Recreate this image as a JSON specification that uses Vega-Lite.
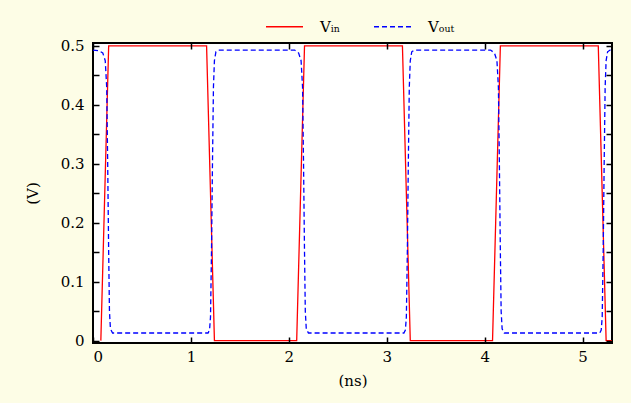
{
  "$schema": "https://vega.github.io/schema/vega-lite/v6.json",
  "width": 519,
  "height": 300,
  "autosize": {"type": "none"},
  "padding": {"left": 93, "top": 43, "right": 19, "bottom": 60},
  "background": "#fdfde6",
  "config": {
    "view": {"fill": "white", "stroke": "#000", "strokeWidth": 2},
    "font": "DejaVu Serif",
    "axis": {
      "domain": false,
      "grid": false,
      "ticks": true,
      "tickColor": "#000000",
      "tickOpacity": 1,
      "tickSize": 6,
      "tickWidth": 1.5,
      "labelFont": "DejaVu Serif",
      "labelFontSize": 15,
      "labelColor": "#000",
      "titleFont": "DejaVu Serif",
      "titleFontSize": 15,
      "titleFontWeight": "normal",
      "titleColor": "#000"
    }
  },
  "data": {
    "values": [
      {"s": "Vin", "t": 0.08, "v": 0},
      {"s": "Vin", "t": 0.16, "v": 0.5},
      {"s": "Vin", "t": 1.16, "v": 0.5},
      {"s": "Vin", "t": 1.24, "v": 0},
      {"s": "Vin", "t": 2.08, "v": 0},
      {"s": "Vin", "t": 2.16, "v": 0.5},
      {"s": "Vin", "t": 3.16, "v": 0.5},
      {"s": "Vin", "t": 3.24, "v": 0},
      {"s": "Vin", "t": 4.08, "v": 0},
      {"s": "Vin", "t": 4.16, "v": 0.5},
      {"s": "Vin", "t": 5.16, "v": 0.5},
      {"s": "Vin", "t": 5.24, "v": 0},
      {"s": "Vin", "t": 5.3, "v": 0},

      {"s": "Vout", "t": 0.0, "v": 0.493},
      {"s": "Vout", "t": 0.06, "v": 0.492},
      {"s": "Vout", "t": 0.1, "v": 0.488},
      {"s": "Vout", "t": 0.125, "v": 0.475},
      {"s": "Vout", "t": 0.14, "v": 0.43},
      {"s": "Vout", "t": 0.15, "v": 0.3},
      {"s": "Vout", "t": 0.16, "v": 0.15},
      {"s": "Vout", "t": 0.168, "v": 0.05},
      {"s": "Vout", "t": 0.178, "v": 0.02},
      {"s": "Vout", "t": 0.2, "v": 0.013},
      {"s": "Vout", "t": 1.175, "v": 0.013},
      {"s": "Vout", "t": 1.19, "v": 0.018},
      {"s": "Vout", "t": 1.2, "v": 0.04},
      {"s": "Vout", "t": 1.21, "v": 0.15},
      {"s": "Vout", "t": 1.22, "v": 0.3},
      {"s": "Vout", "t": 1.23, "v": 0.43},
      {"s": "Vout", "t": 1.24, "v": 0.475},
      {"s": "Vout", "t": 1.255, "v": 0.49},
      {"s": "Vout", "t": 1.28, "v": 0.493},
      {"s": "Vout", "t": 2.06, "v": 0.493},
      {"s": "Vout", "t": 2.1, "v": 0.488},
      {"s": "Vout", "t": 2.125, "v": 0.475},
      {"s": "Vout", "t": 2.14, "v": 0.43},
      {"s": "Vout", "t": 2.15, "v": 0.3},
      {"s": "Vout", "t": 2.16, "v": 0.15},
      {"s": "Vout", "t": 2.168, "v": 0.05},
      {"s": "Vout", "t": 2.178, "v": 0.02},
      {"s": "Vout", "t": 2.2, "v": 0.013},
      {"s": "Vout", "t": 3.175, "v": 0.013},
      {"s": "Vout", "t": 3.19, "v": 0.018},
      {"s": "Vout", "t": 3.2, "v": 0.04},
      {"s": "Vout", "t": 3.21, "v": 0.15},
      {"s": "Vout", "t": 3.22, "v": 0.3},
      {"s": "Vout", "t": 3.23, "v": 0.43},
      {"s": "Vout", "t": 3.24, "v": 0.475},
      {"s": "Vout", "t": 3.255, "v": 0.49},
      {"s": "Vout", "t": 3.28, "v": 0.493},
      {"s": "Vout", "t": 4.06, "v": 0.493},
      {"s": "Vout", "t": 4.1, "v": 0.488},
      {"s": "Vout", "t": 4.125, "v": 0.475},
      {"s": "Vout", "t": 4.14, "v": 0.43},
      {"s": "Vout", "t": 4.15, "v": 0.3},
      {"s": "Vout", "t": 4.16, "v": 0.15},
      {"s": "Vout", "t": 4.168, "v": 0.05},
      {"s": "Vout", "t": 4.178, "v": 0.02},
      {"s": "Vout", "t": 4.2, "v": 0.013},
      {"s": "Vout", "t": 5.175, "v": 0.013},
      {"s": "Vout", "t": 5.19, "v": 0.018},
      {"s": "Vout", "t": 5.2, "v": 0.04},
      {"s": "Vout", "t": 5.21, "v": 0.15},
      {"s": "Vout", "t": 5.22, "v": 0.3},
      {"s": "Vout", "t": 5.23, "v": 0.43},
      {"s": "Vout", "t": 5.24, "v": 0.475},
      {"s": "Vout", "t": 5.255, "v": 0.49},
      {"s": "Vout", "t": 5.28, "v": 0.493},
      {"s": "Vout", "t": 5.3, "v": 0.493}
    ]
  },
  "layer": [
    {
      "mark": {"type": "line", "strokeWidth": 1.3, "clip": true},
      "encoding": {
        "x": {
          "field": "t", "type": "quantitative",
          "scale": {"domain": [0, 5.3], "nice": false, "zero": false},
          "axis": {"orient": "bottom", "values": [0, 1, 2, 3, 4, 5], "ticks": false, "title": "(ns)", "labelPadding": 6, "titlePadding": 9}
        },
        "y": {
          "field": "v", "type": "quantitative",
          "scale": {"domain": [-0.004, 0.505], "nice": false, "zero": false},
          "axis": {
            "orient": "left",
            "values": [0, 0.1, 0.2, 0.3, 0.4, 0.5],
            "format": "~g",
            "ticks": false,
            "title": "(V)",
            "labelPadding": 9,
            "titlePadding": 20
          }
        },
        "color": {
          "field": "s", "type": "nominal",
          "scale": {"domain": ["Vin", "Vout"], "range": ["#ff0000", "#0000ff"]},
          "legend": {
            "title": null, "orient": "none", "legendX": 172, "legendY": -36, "direction": "horizontal",
            "symbolType": "stroke", "symbolSize": 1369, "symbolStrokeWidth": 1.5,
            "labelFont": "DejaVu Serif", "labelFontSize": 15, "labelColor": "#000", "labelOffset": 16, "columnPadding": 30, "padding": 0,
            "labelExpr": "datum.label == 'Vin' ? 'Vᵢₙ' : 'Vₒᵤₜ'"
          }
        },
        "strokeDash": {
          "field": "s", "type": "nominal",
          "scale": {"domain": ["Vin", "Vout"], "range": [[1, 0], [5, 3]]},
          "legend": {
            "title": null, "orient": "none", "legendX": 172, "legendY": -36, "direction": "horizontal",
            "symbolType": "stroke", "symbolSize": 1369, "symbolStrokeWidth": 1.5,
            "labelFont": "DejaVu Serif", "labelFontSize": 15, "labelColor": "#000", "labelOffset": 16, "columnPadding": 30, "padding": 0,
            "labelExpr": "datum.label == 'Vin' ? 'Vᵢₙ' : 'Vₒᵤₜ'"
          }
        }
      }
    },
    {
      "mark": {"type": "line", "opacity": 0},
      "encoding": {
        "x": {
          "field": "t", "type": "quantitative",
          "axis": {"orient": "top", "values": [0, 1, 2, 3, 4, 5], "labels": false, "title": null, "offset": -6, "zindex": 3}
        },
        "y": {
          "field": "v", "type": "quantitative",
          "axis": {"orient": "right", "values": [0, 0.05, 0.1, 0.15, 0.2, 0.25, 0.3, 0.35, 0.4, 0.45, 0.5], "labels": false, "title": null, "offset": -6, "zindex": 3}
        },
        "detail": {"field": "s", "type": "nominal"}
      }
    },
    {
      "mark": {"type": "line", "opacity": 0},
      "encoding": {
        "x": {
          "field": "t", "type": "quantitative",
          "axis": {"orient": "bottom", "values": [0, 1, 2, 3, 4, 5], "labels": false, "title": null, "offset": -6, "zindex": 3}
        },
        "y": {
          "field": "v", "type": "quantitative",
          "axis": {"orient": "left", "values": [0, 0.05, 0.1, 0.15, 0.2, 0.25, 0.3, 0.35, 0.4, 0.45, 0.5], "labels": false, "title": null, "offset": -6, "zindex": 3}
        },
        "detail": {"field": "s", "type": "nominal"}
      }
    }
  ],
  "resolve": {"axis": {"x": "independent", "y": "independent"}}
}
